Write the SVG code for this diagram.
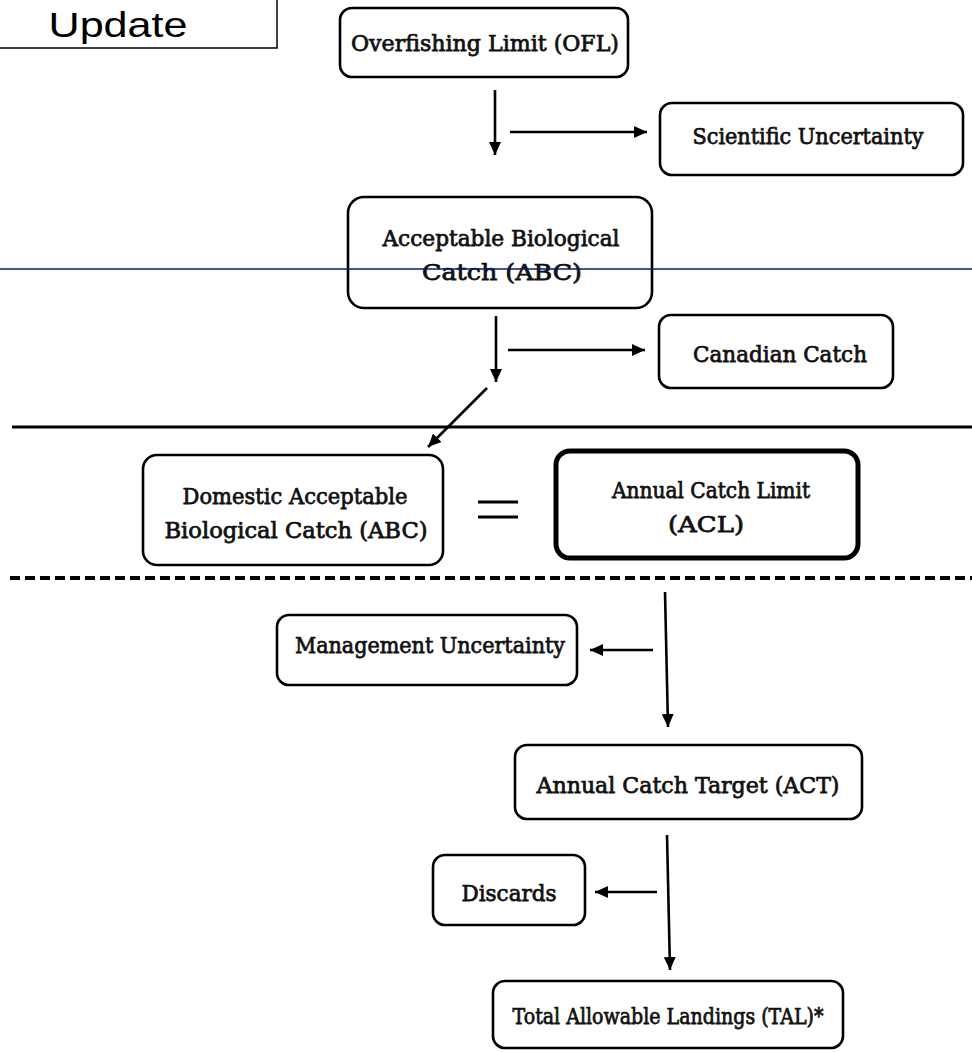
<svg xmlns="http://www.w3.org/2000/svg" width="972" height="1052" viewBox="0 0 972 1052">
<style>
.box{fill:#fff;stroke:#000;stroke-width:2.6}
.t{font-family:"DejaVu Serif","Liberation Serif",serif;font-size:22px;fill:#111;stroke:#111;stroke-width:0.75;text-anchor:middle}
.c{stroke:#000;stroke-width:2.6;fill:none}
</style>
<defs>
<marker id="ah" viewBox="0 0 13 12" refX="13" refY="6" markerWidth="13" markerHeight="12" markerUnits="userSpaceOnUse" orient="auto">
<path d="M0,0 L13,6 L0,12 z" fill="#000"/>
</marker>
</defs>
<rect width="972" height="1052" fill="#fff"/>
<g id="update">
<rect x="-4" y="-4" width="281" height="52" fill="#fff" stroke="#000" stroke-width="1.5"/>
<text x="118" y="37" font-family="Liberation Sans, Arial, sans-serif" font-size="35" text-anchor="middle" textLength="139" lengthAdjust="spacingAndGlyphs" fill="#000">Update</text>
</g>
<g id="lines">
<line x1="12" y1="427" x2="972" y2="427" stroke="#000" stroke-width="3"/>
<line x1="10" y1="578" x2="972" y2="578" stroke="#000" stroke-width="4" stroke-dasharray="10,5"/>
</g>
<g id="ofl">
<rect class="box" x="340" y="8" width="288" height="69" rx="12"/>
<text class="t" x="485" y="51" textLength="268" lengthAdjust="spacingAndGlyphs">Overfishing Limit (OFL)</text>
</g>
<g id="sci">
<rect class="box" x="660" y="103" width="303" height="72" rx="12"/>
<text class="t" x="808" y="144" textLength="231" lengthAdjust="spacingAndGlyphs">Scientific Uncertainty</text>
</g>
<g id="abc">
<rect class="box" x="348" y="197" width="304" height="111" rx="16"/>
<text class="t" x="501" y="246" textLength="237" lengthAdjust="spacingAndGlyphs">Acceptable Biological</text>
<text class="t" x="502" y="280" textLength="160" lengthAdjust="spacingAndGlyphs">Catch (ABC)</text>
</g>
<g id="canadian">
<rect class="box" x="659" y="315" width="234" height="73" rx="12"/>
<text class="t" x="780" y="362" textLength="174" lengthAdjust="spacingAndGlyphs">Canadian Catch</text>
</g>
<g id="dabc">
<rect class="box" x="143" y="455" width="300" height="110" rx="14"/>
<text class="t" x="295" y="504" textLength="225" lengthAdjust="spacingAndGlyphs">Domestic Acceptable</text>
<text class="t" x="296" y="538" textLength="263" lengthAdjust="spacingAndGlyphs">Biological  Catch (ABC)</text>
</g>
<g id="equals">
<line x1="478" y1="502" x2="518" y2="502" stroke="#000" stroke-width="3"/>
<line x1="478" y1="517" x2="518" y2="517" stroke="#000" stroke-width="3"/>
</g>
<g id="acl">
<rect x="556" y="451" width="302" height="107" rx="14" fill="#fff" stroke="#000" stroke-width="5"/>
<rect x="560.5" y="455.5" width="293" height="98" rx="11" fill="none" stroke="#fff" stroke-width="1"/>
<text class="t" x="711" y="498" textLength="198" lengthAdjust="spacingAndGlyphs">Annual Catch Limit</text>
<text class="t" x="706" y="532" textLength="76" lengthAdjust="spacingAndGlyphs">(ACL)</text>
</g>
<g id="mgmt">
<rect class="box" x="277" y="615" width="300" height="70" rx="12"/>
<text class="t" x="430" y="653" textLength="270" lengthAdjust="spacingAndGlyphs">Management Uncertainty</text>
</g>
<g id="act">
<rect class="box" x="515" y="745" width="347" height="74" rx="12"/>
<text class="t" x="688" y="793" textLength="303" lengthAdjust="spacingAndGlyphs">Annual Catch Target  (ACT)</text>
</g>
<g id="discards">
<rect class="box" x="433" y="855" width="152" height="70" rx="12"/>
<text class="t" x="509" y="901" textLength="95" lengthAdjust="spacingAndGlyphs">Discards</text>
</g>
<g id="tal">
<rect class="box" x="493" y="981" width="350" height="67" rx="12"/>
<text class="t" x="668" y="1024" textLength="311" lengthAdjust="spacingAndGlyphs">Total Allowable Landings (TAL)*</text>
</g>
<g id="connectors">
<line class="c" x1="495" y1="90" x2="495" y2="155" marker-end="url(#ah)"/>
<line class="c" x1="510" y1="132" x2="647" y2="132" marker-end="url(#ah)"/>
<line class="c" x1="496" y1="316" x2="496" y2="382" marker-end="url(#ah)"/>
<line class="c" x1="508" y1="350" x2="645" y2="350" marker-end="url(#ah)"/>
<line class="c" x1="487" y1="388" x2="428" y2="447" marker-end="url(#ah)"/>
<line class="c" x1="665" y1="592" x2="668" y2="727" stroke-width="1.8" marker-end="url(#ah)"/>
<line class="c" x1="653" y1="650" x2="590" y2="650" marker-end="url(#ah)"/>
<line class="c" x1="667" y1="835" x2="670" y2="970" stroke-width="1.8" marker-end="url(#ah)"/>
<line class="c" x1="657" y1="892" x2="595" y2="892" marker-end="url(#ah)"/>
</g>
<g id="blue-line">
<line x1="0" y1="269" x2="972" y2="269" stroke="#0d1a6e" stroke-width="1.3"/>
</g>
</svg>
